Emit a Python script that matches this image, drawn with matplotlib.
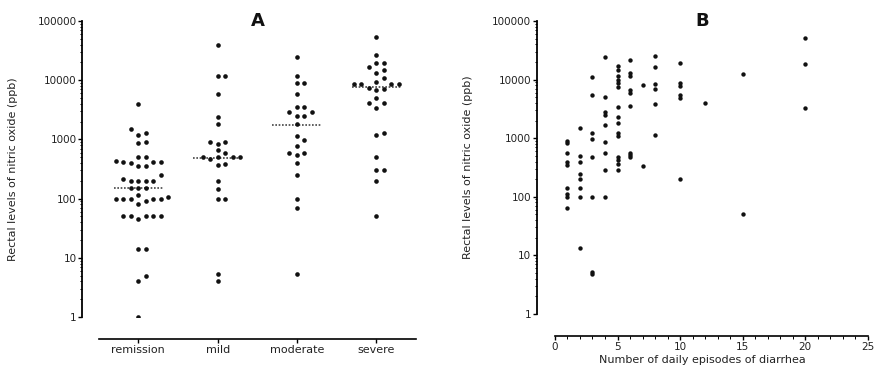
#!/usr/bin/env python3
"""Rectal nitric oxide by disease activity (A) and by diarrhea frequency (B)."""

import matplotlib

matplotlib.use("Agg")
import matplotlib.pyplot as plt
import numpy as np
from matplotlib.ticker import FixedLocator, NullFormatter

# Panel A: nitric oxide (ppb) per activity group
categories = ["remission", "mild", "moderate", "severe"]
remission = [4000, 1500, 1200, 1300, 900, 870, 500, 500, 420, 400, 350, 360, 410,
             410, 440, 215, 200, 200, 200, 200, 250, 150, 150, 150, 100, 100, 100,
             115, 105, 90, 100, 100, 82, 50, 50, 50, 46, 50, 50, 14, 14, 5, 4, 1]
mild = [40000, 12000, 12000, 5800, 2400, 1850, 920, 850, 890, 650, 590, 500, 500,
        500, 500, 460, 365, 390, 195, 148, 100, 100, 5.4, 4]
moderate = [25000, 12000, 8900, 8900, 5900, 3500, 3500, 2850, 2450, 2450, 2850,
            1800, 1150, 960, 760, 600, 550, 600, 400, 253, 100, 69, 5.4]
severe = [54000, 26800, 19900, 19900, 17000, 14600, 13400, 10800, 9500, 8700, 8700,
          8700, 8700, 7100, 6800, 7500, 5000, 4100, 4100, 3450, 1200, 1280, 500,
          300, 300, 200, 50]
group_values = [remission, mild, moderate, severe]
medians = [150, 490, 1740, 7600]

# Panel B: daily episodes of diarrhea vs nitric oxide (ppb)
episodes = (
    [1] * 9 + [2] * 8 + [3] * 8 + [4] * 9 + [5] * 15 + [6] * 9 + [7] * 2
    + [8] * 6 + [10] * 6 + [12] + [15] * 2 + [20] * 3
)
no_levels = [
    906, 815, 570, 385, 351, 143, 110, 100, 65,
    1500, 488, 400, 243, 200, 143, 100, 13.4,
    11000, 5500, 1210, 970, 481, 100, 5.2, 4.9,
    24400, 5000, 2770, 2530, 1710, 847, 570, 288, 100,
    16900, 14800, 11400, 10000, 8700, 7600, 3400, 2340, 1800, 1210, 1100, 480, 420, 360, 290,
    22000, 13000, 11400, 6700, 5900, 3480, 570, 520, 480,
    8200, 337,
    25400, 16400, 8500, 7000, 3870, 1140,
    19300, 8700, 7650, 5370, 4900, 200,
    4020,
    12700, 50,
    51800, 18800, 3300,
]

TEXT = "#222222"
W, H = 877, 369
DECADES = [1, 10, 100, 1000, 10000, 100000]


def style_log_y(ax):
    ax.set_yscale("log")
    ax.set_ylim(1, 100000)
    ax.yaxis.set_major_locator(FixedLocator(DECADES))
    ax.set_yticklabels([str(d) for d in DECADES])
    minors = [d * k for d in DECADES[:-1] for k in range(2, 10)]
    ax.yaxis.set_minor_locator(FixedLocator(minors))
    ax.yaxis.set_minor_formatter(NullFormatter())
    ax.tick_params(axis="y", which="major", length=3, width=1, pad=1,
                   labelsize=7.5, labelcolor=TEXT)
    ax.tick_params(axis="y", which="minor", length=1.8, width=0.7)
    ax.set_ylabel("Rectal levels of nitric oxide (ppb)", fontsize=8, color=TEXT, labelpad=14)
    for side in ("top", "right"):
        ax.spines[side].set_visible(False)
    ax.spines["left"].set_linewidth(1.3)
    ax.spines["bottom"].set_linewidth(1.2)
    ax.spines["bottom"].set_position(("outward", 16))


def swarm_x(ax, x0, values, step_px=7.5, gap_px=6.5):
    """Spread points sideways so markers at similar heights sit next to each other."""
    pts = ax.transData.transform(np.column_stack([np.full(len(values), x0), values]))
    ys = pts[:, 1]
    offsets = np.zeros(len(values))
    placed = []
    candidates = [0]
    for k in range(1, 12):
        candidates += [k, -k]
    for i in np.argsort(ys):
        for k in candidates:
            dx = k * step_px
            if all(abs(dx - px) >= gap_px or abs(ys[i] - py) >= gap_px for px, py in placed):
                break
        placed.append((dx, ys[i]))
        offsets[i] = dx
    back = ax.transData.inverted().transform(np.column_stack([pts[:, 0] + offsets, ys]))
    return back[:, 0]


fig = plt.figure(figsize=(W / 100, H / 100), dpi=100)

# ---- Panel A ----
axA = fig.add_axes([82 / W, (H - 317) / H, (416 - 82) / W, 296 / H])
style_log_y(axA)
axA.set_xlim(0.29, 4.5)
axA.spines["bottom"].set_bounds(0.5, 4.5)
positions = np.arange(1, len(categories) + 1)
axA.set_xticks(positions)
axA.set_xticklabels(categories)
axA.tick_params(axis="x", length=3, width=1, pad=1.5, labelsize=8, labelcolor=TEXT)

for pos, values, med in zip(positions, group_values, medians):
    xs = swarm_x(axA, pos, values)
    axA.scatter(xs, values, s=11, color="#111111", linewidths=0, zorder=3)
    axA.plot([pos - 0.31, pos + 0.31], [med, med], color="#444444",
             linestyle=(0, (1, 1)), linewidth=1.2, zorder=2)

axA.text(0.527, 1.0, "A", transform=axA.transAxes, ha="center", va="center",
         fontsize=13, fontweight="bold", color="#111111")

# ---- Panel B ----
axB = fig.add_axes([536.7 / W, (H - 314) / H, (867.7 - 536.7) / W, 293 / H])
style_log_y(axB)
axB.set_xlim(-1.46, 25)
axB.spines["bottom"].set_bounds(0, 25)
axB.xaxis.set_major_locator(FixedLocator(range(0, 26, 5)))
axB.xaxis.set_minor_locator(FixedLocator(range(0, 26)))
axB.tick_params(axis="x", which="major", length=3, width=1, pad=1.5,
                labelsize=7.5, labelcolor=TEXT)
axB.tick_params(axis="x", which="minor", length=1.8, width=0.7)
axB.set_xlabel("Number of daily episodes of diarrhea", fontsize=8, color=TEXT, labelpad=2)
axB.scatter(episodes, no_levels, s=10, color="#111111", linewidths=0, zorder=3)

axB.text(0.5, 1.0, "B", transform=axB.transAxes, ha="center", va="center",
         fontsize=13, fontweight="bold", color="#111111")

fig.savefig("out.png", dpi=100)
